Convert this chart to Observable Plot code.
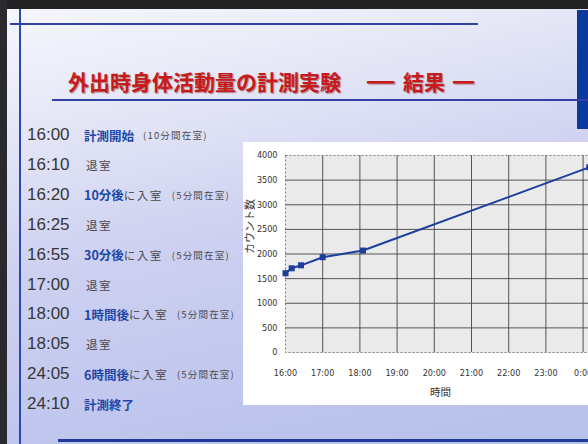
<!DOCTYPE html>
<html lang="ja">
<head>
<meta charset="utf-8">
<script src="https://cdn.jsdelivr.net/npm/d3@7"></script>
<script src="https://cdn.jsdelivr.net/npm/@observablehq/plot@0.6"></script>
<style>
  html, body { margin: 0; padding: 0; }
  #slide {
    position: relative; width: 588px; height: 444px; overflow: hidden;
    background: linear-gradient(168deg, #f7f8fd 0%, #e6e8f7 22%, #cdd0f0 50%, #c1c7ee 75%, #b7c0ea 100%);
    font-family: "Liberation Sans", Arial, sans-serif;
  }
  .abs { position: absolute; }
  #topband { left: 0; top: 0; width: 588px; height: 9px; background: #222; }
  #leftband { left: 0; top: 0; width: 7px; height: 444px; background: #2a2a2e; }
  #vline { left: 19px; top: 9px; width: 2px; height: 435px; background: #2d48ad; }
  #topline { left: 10px; top: 23px; width: 468px; height: 2px; background: #3341a6; }
  #titleline { left: 52px; top: 99px; width: 536px; height: 2px; background: #3341a6; }
  #bottomline { left: 58px; top: 439px; width: 530px; height: 3px; background: #1f3b9a; }
  #rightblock { left: 577px; top: 10px; width: 11px; height: 119px; background: #0b3a9c; }
  .title {
    top: 68px; font-family: "Noto Sans CJK JP", sans-serif; font-weight: bold;
    font-size: 21px; line-height: 26px; color: #c8191b; white-space: nowrap;
    text-shadow: 1px 1px 1px rgba(90, 10, 10, 0.45);
  }
  .dash { display: inline-block; transform: scaleX(1.3); transform-origin: left center; }
  .row { left: 27px; height: 24px; white-space: nowrap; display: flex; align-items: center; }
  .time { width: 57px; font-size: 17px; color: #363636; font-family: "Liberation Sans", Arial, sans-serif; }
  .main { font-family: "Noto Sans CJK JP", sans-serif; font-weight: bold; font-size: 12.5px; color: #2046a8; }
  .act { font-family: "Noto Sans CJK JP", sans-serif; font-size: 11.5px; color: #4a4a52; letter-spacing: 1.5px; }
  .note { font-family: "Noto Sans CJK JP", sans-serif; font-size: 9.5px; color: #4a4a52; letter-spacing: 1.2px; margin-left: 9px; }
  #panel { left: 243px; top: 142px; width: 360px; height: 263px; background: #fff; }
</style>
</head>
<body>
<div id="slide">
  <div class="abs" id="topband"></div>
  <div class="abs" id="leftband"></div>
  <div class="abs" id="vline"></div>
  <div class="abs" id="topline"></div>
  <div class="abs" id="rightblock"></div>
  <div class="abs title" style="left:68px">外出時身体活動量の計測実験</div>
  <div class="abs title" style="left:367px"><span class="dash">━</span><span style="margin-left:15px">結果</span><span style="margin-left:8px">━</span></div>
  <div class="abs" id="titleline"></div>
  <div class="abs" id="bottomline"></div>
  <div id="list"></div>
  <div class="abs" id="panel"></div>
</div>
<script>
// Timeline of the experiment (left-hand list)
const listTimes  = ["16:00", "16:10", "16:20", "16:25", "16:55", "17:00", "18:00", "18:05", "24:05", "24:10"];
const listMain   = ["計測開始", "", "10分後", "", "30分後", "", "1時間後", "", "6時間後", "計測終了"];
const listAction = ["", "退室", "に入室", "退室", "に入室", "退室", "に入室", "退室", "に入室", ""];
const listNote   = ["(10分間在室)", "", "(5分間在室)", "", "(5分間在室)", "", "(5分間在室)", "", "(5分間在室)", ""];

// Cumulative count readings
const sampleTimes = ["16:00", "16:10", "16:25", "17:00", "18:05", "24:10"];
const counts      = [1610, 1710, 1770, 1935, 2070, 3760];

// Axis ticks and titles
const hourTicks  = [16, 17, 18, 19, 20, 21, 22, 23, 24];
const countTicks = [0, 500, 1000, 1500, 2000, 2500, 3000, 3500, 4000];
const xTitle = "時間";
const yTitle = "カウント数";

const slide = document.getElementById("slide");
listTimes.forEach((t, i) => {
  const row = document.createElement("div");
  row.className = "abs row";
  row.style.top = (123 + i * 29.9) + "px";
  row.innerHTML =
    `<span class="time">${t}</span>` +
    (listMain[i] ? `<span class="main">${listMain[i]}</span>` : "") +
    (listAction[i] ? `<span class="act" style="margin-left:${listMain[i] ? 0 : 2}px">${listAction[i]}</span>` : "") +
    (listNote[i] ? `<span class="note">${listNote[i]}</span>` : "");
  slide.appendChild(row);
});

const toHours = s => { const [h, m] = s.split(":").map(Number); return h + m / 60; };
const data = sampleTimes.map((t, i) => ({hour: toHours(t), count: counts[i]}));
const cjk = "'Noto Sans CJK JP', sans-serif";

const chart = Plot.plot({
  width: 360,
  height: 263,
  marginLeft: 42,
  marginRight: 8,
  marginTop: 13,
  marginBottom: 53,
  style: {
    fontFamily: "'Liberation Sans Narrow', 'DejaVu Sans Condensed', 'Liberation Sans', sans-serif",
    fontSize: "9px",
    color: "#333",
    background: "transparent",
    overflow: "visible"
  },
  x: {domain: [16, 24 + 20 / 60]},
  y: {domain: [0, 4000]},
  marks: [
    Plot.frame({fill: "#eaeaea", stroke: "none"}),
    Plot.gridX(hourTicks.slice(1), {stroke: "#454545", strokeOpacity: 0.9, strokeWidth: 1}),
    Plot.gridY(countTicks.slice(1, -1), {stroke: "#454545", strokeOpacity: 0.9, strokeWidth: 1}),
    Plot.frame({stroke: "#777", strokeDasharray: "2,2"}),
    Plot.axisX(hourTicks, {tickSize: 0, tickPadding: 17, tickFormat: d => `${d % 24}:00`, label: null}),
    Plot.axisY(countTicks, {tickSize: 0, tickPadding: 8, tickFormat: d => String(d), label: null}),
    Plot.text([xTitle], {frameAnchor: "bottom", dy: 43, fontFamily: cjk, fontSize: 10.5, fill: "#333"}),
    Plot.text([yTitle], {frameAnchor: "left", rotate: -90, dx: -35, fontFamily: cjk, fontSize: 11, fill: "#333"}),
    Plot.line(data, {x: "hour", y: "count", stroke: "#1c3f9e", strokeWidth: 2}),
    Plot.dot(data, {x: "hour", y: "count", symbol: "square", r: 3.4, fill: "#1c3f9e"})
  ]
});
document.getElementById("panel").appendChild(chart);
</script>
</body>
</html>
